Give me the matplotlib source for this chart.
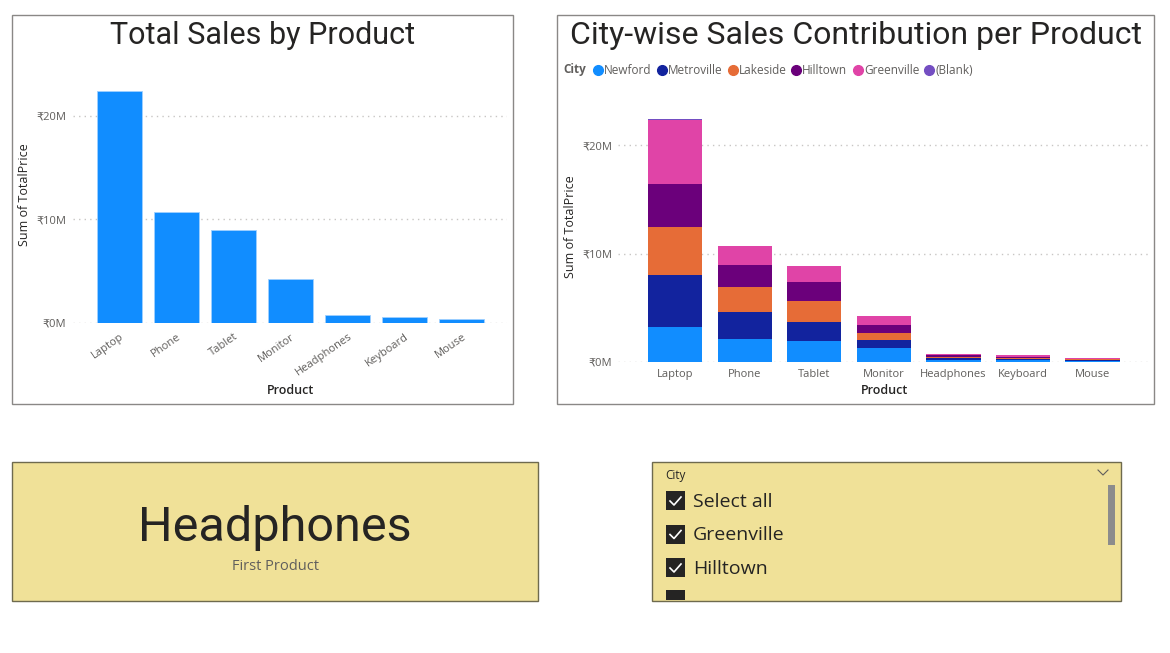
import matplotlib
matplotlib.use("Agg")
import matplotlib.pyplot as plt
from matplotlib.patches import Rectangle
from matplotlib.ticker import FuncFormatter
import numpy as np

# data (values in millions of rupees)
products = ["Laptop", "Phone", "Tablet", "Monitor", "Headphones", "Keyboard", "Mouse"]
total_sales = [22.4, 10.7, 8.95, 4.25, 0.74, 0.61, 0.38]

cities = ["Newford", "Metroville", "Lakeside", "Hilltown", "Greenville", "(Blank)"]
newford = [3.23, 2.15, 1.97, 1.32, 0.20, 0.16, 0.10]
metroville = [4.76, 2.46, 1.72, 0.71, 0.13, 0.12, 0.07]
lakeside = [4.43, 2.27, 1.90, 0.64, 0.15, 0.12, 0.07]
hilltown = [4.00, 2.06, 1.75, 0.74, 0.12, 0.10, 0.07]
greenville = [5.88, 1.72, 1.54, 0.80, 0.14, 0.11, 0.07]
blank = [0.12, 0.0, 0.0, 0.0, 0.0, 0.0, 0.0]
city_values = [newford, metroville, lakeside, hilltown, greenville, blank]
city_colors = ["#118DFF", "#12239E", "#E66C37", "#6B007B", "#E044A7", "#744EC2"]

yticks = [0, 10, 20]
card_value = "Headphones"
card_label = "First Product"
slicer_title = "City"
slicer_items = ["Select all", "Greenville", "Hilltown", "Lakeside"]

W, H = 1170, 653
fig = plt.figure(figsize=(W / 100, H / 100), dpi=100)
fig.patch.set_facecolor("white")

UI = ["Open Sans", "DejaVu Sans"]
TITLE = ["Roboto", "DejaVu Sans"]
DARK = "#252423"
GRAY = "#605E5C"


def px_axes(x0, y0, x1, y1):
    return fig.add_axes([x0 / W, 1 - y1 / H, (x1 - x0) / W, (y1 - y0) / H])


def box(x0, y0, x1, y1, face="white", edge="#8A8886", lw=1.0):
    fig.patches.append(Rectangle((x0 / W, 1 - y1 / H), (x1 - x0) / W, (y1 - y0) / H,
                                 transform=fig.transFigure, facecolor=face,
                                 edgecolor=edge, linewidth=lw, zorder=-1))


def fx(x):
    return x / W


def fy(y):
    return 1 - y / H


rupees = FuncFormatter(lambda v, p: "\u20b9%dM" % v)


def style_axes(ax):
    for s in ax.spines.values():
        s.set_visible(False)
    ax.set_facecolor("none")
    ax.tick_params(length=0, colors=GRAY, labelsize=8)
    ax.set_yticks(yticks)
    ax.yaxis.set_major_formatter(rupees)
    ax.grid(axis="y", color="#C8C6C4", linestyle=(0, (1, 3)), linewidth=1)
    ax.set_axisbelow(True)
    for lab in ax.get_yticklabels() + ax.get_xticklabels():
        lab.set_family(UI)


# panels
box(12, 15, 513, 404)
box(557, 15, 1154, 404)
box(12, 462, 538, 601, face="#F0E198", edge="#6E6A4E")
box(652, 462, 1121, 601, face="#F0E198", edge="#6E6A4E")

# left chart: total sales
ax1 = px_axes(73, 64, 507, 323)
x = np.arange(len(products))
ax1.bar(x, total_sales, width=0.79, color="#118DFF", edgecolor="#9FD0FF", linewidth=0.6)
ax1.set_xlim(-0.82, 6.79)
ax1.set_ylim(0, 25)
style_axes(ax1)
ax1.set_xticks(x)
ax1.set_xticklabels(products, rotation=35, ha="right", rotation_mode="anchor", family=UI)
ax1.tick_params(axis="x", pad=6)
ax1.tick_params(axis="y", pad=5)
fig.text(fx(263), fy(35), "Total Sales by Product", ha="center", va="center",
         fontsize=22, family=TITLE, color=DARK)
fig.text(fx(291), fy(390), "Product", ha="center", va="center", fontsize=9,
         family=UI, color=DARK, fontweight="semibold")
fig.text(fx(25), fy(195), "Sum of TotalPrice", ha="center", va="center", fontsize=9,
         family=UI, color=DARK, rotation=90)

# right chart: stacked by city
ax2 = px_axes(618, 91, 1151, 362)
bottom = np.zeros(len(products))
for vals, col in zip(city_values, city_colors):
    ax2.bar(x, vals, bottom=bottom, width=0.78, color=col, edgecolor="none")
    bottom += np.array(vals)
ax2.set_xlim(-0.82, 6.84)
ax2.set_ylim(0, 25)
style_axes(ax2)
ax2.set_xticks(x)
ax2.set_xticklabels(products, family=UI)
ax2.tick_params(axis="x", pad=5)
ax2.tick_params(axis="y", pad=4)
fig.text(fx(856), fy(35), "City-wise Sales Contribution per Product", ha="center",
         va="center", fontsize=23, family=TITLE, color=DARK)
fig.text(fx(884), fy(390), "Product", ha="center", va="center", fontsize=9,
         family=UI, color=DARK, fontweight="semibold")
fig.text(fx(570), fy(227), "Sum of TotalPrice", ha="center", va="center", fontsize=9,
         family=UI, color=DARK, rotation=90)

# legend
fig.text(fx(563), fy(70), "City", ha="left", va="center", fontsize=8.5, family=UI,
         color=GRAY, fontweight="bold")
leg_x = [598, 662, 733, 796, 858, 929]
for lx, name, col in zip(leg_x, cities, city_colors):
    fig.add_artist(plt.Line2D([fx(lx)], [fy(70)], marker="o", markersize=7,
                              color=col, transform=fig.transFigure))
    fig.text(fx(lx + 6), fy(70), name, ha="left", va="center", fontsize=8.5,
             family=UI, color=GRAY)

# card
fig.text(fx(275), fy(528), card_value, ha="center", va="center", fontsize=35,
         family=TITLE, color=DARK)
fig.text(fx(275), fy(567), card_label, ha="center", va="center", fontsize=10.5,
         family=UI, color=GRAY)

# slicer
fig.text(fx(665), fy(476), slicer_title, ha="left", va="center", fontsize=8.5,
         family=UI, color=DARK)
fig.add_artist(plt.Line2D([fx(1098), fx(1103), fx(1108)], [fy(470), fy(475), fy(470)],
                          color=GRAY, linewidth=0.8, transform=fig.transFigure))
fig.patches.append(Rectangle((fx(1108), fy(545)), 7 / W, 60 / H, transform=fig.transFigure,
                             facecolor="#8C8C8C", edgecolor="none"))
for i, item in enumerate(slicer_items):
    yc = 501 + i * 33.5
    if yc > 590:
        # last item is cut off by the slicer border
        fig.patches.append(Rectangle((fx(666), fy(600)), 19 / W, 10 / H,
                                     transform=fig.transFigure, facecolor="#252423",
                                     edgecolor="none"))
        continue
    fig.patches.append(Rectangle((fx(666), fy(yc + 9)), 19 / W, 19 / H,
                                 transform=fig.transFigure, facecolor="#252423",
                                 edgecolor="none"))
    fig.add_artist(plt.Line2D([fx(670), fx(674), fx(681)], [fy(yc), fy(yc + 4), fy(yc - 4)],
                              color="white", linewidth=1.2, transform=fig.transFigure))
    fig.text(fx(693), fy(yc + 1), item, ha="left", va="center", fontsize=14,
             family=UI, color=DARK)

fig.savefig("out.png", dpi=100)
